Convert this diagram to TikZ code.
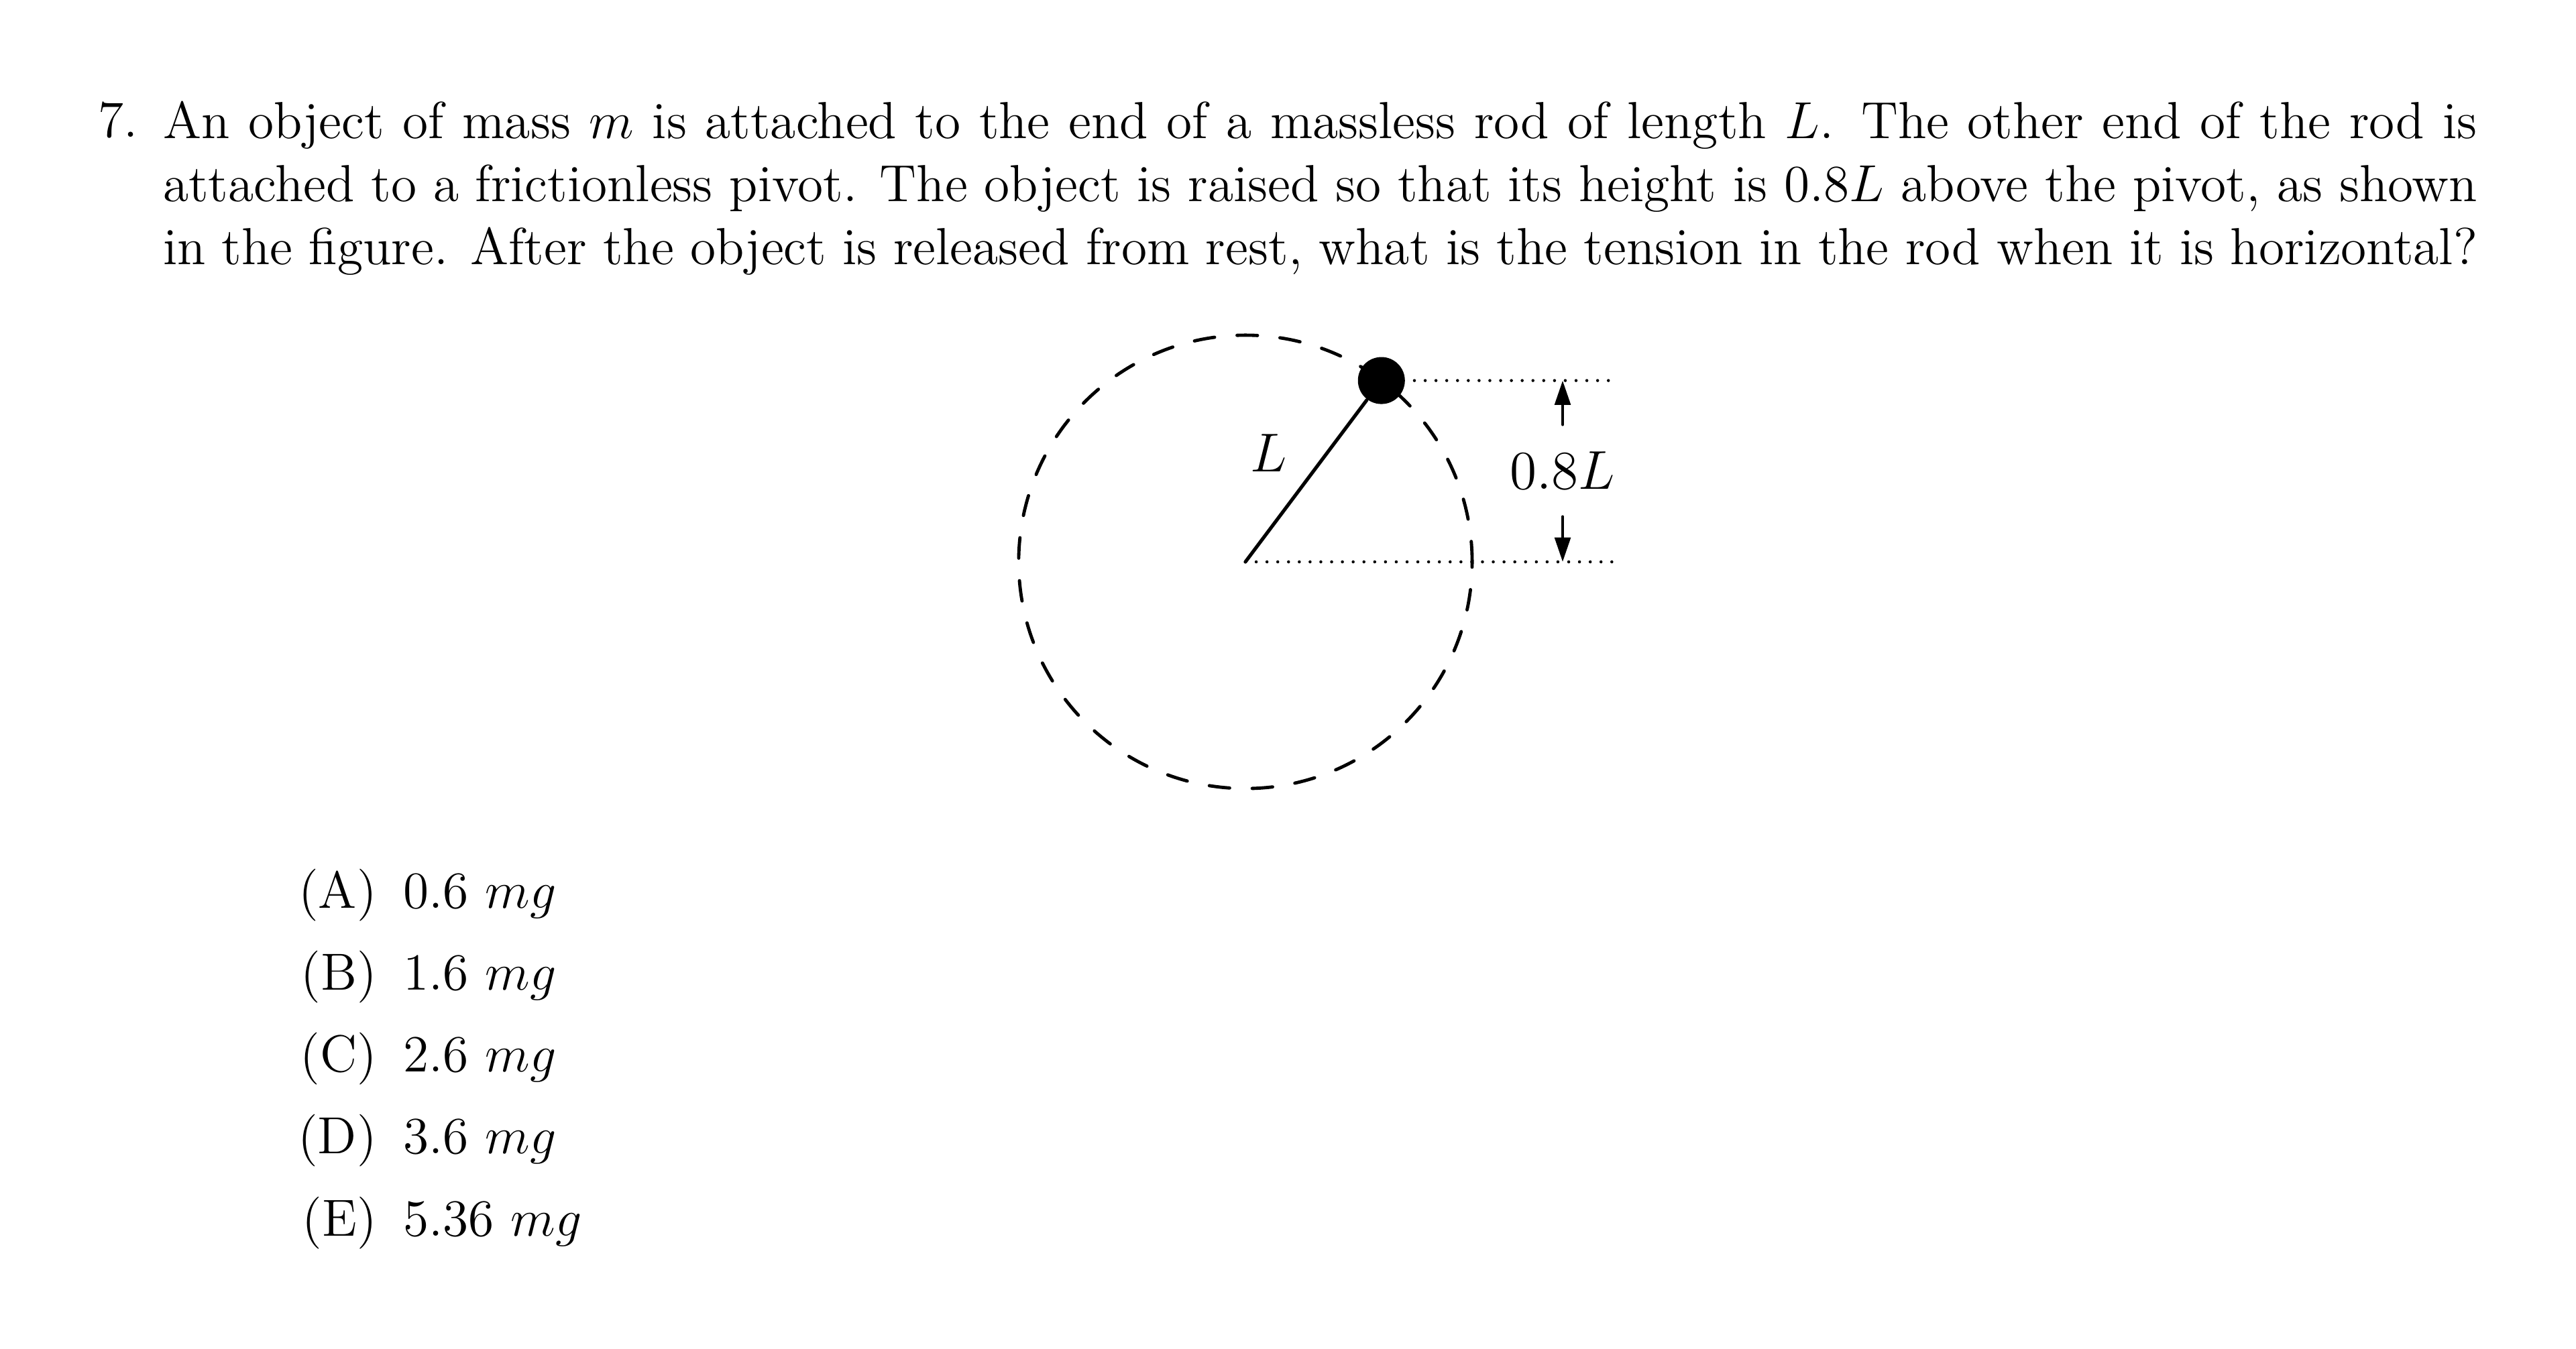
\documentclass[12pt,tikz,border=0pt]{standalone}
\usepackage{amsmath,amssymb}
\usepackage{xcolor}
\usepackage{tikz}
\usetikzlibrary{arrows.meta,positioning}
\tikzset{
bob/.style = {circle, fill=black, inner sep=0pt, minimum size = #1},
bob/.default = 0.38cm, % diameter of the mass
swing/.style = {line width=0.75pt, line cap=round, dash pattern=on 4.7pt off 5.2pt},
level/.style = {line width=0.7pt, line cap=round, dash pattern=on 0pt off 2.48pt},
rod/.style = {line width=0.8pt, line cap=round},
gauge/.style = {line width=0.7pt, line cap=round, -{Triangle[length=5.6pt,width=3.6pt]}},
answer/.style = {inner sep=0pt, anchor=base east},
figlabel/.style = {scale=1.05, transform shape},
}

\begin{document}
\begin{tikzpicture}
    \useasboundingbox (-10.074,4.546) rectangle (10.763,-6.364);
    % question text
    \node[inner sep=0pt, anchor=base west] (number) at (-9.288,3.434) {7.};
    \node[inner sep=0pt, anchor=north west, text width=18.72cm, align=justify] (question) at (-8.762,3.733) {An object of mass $m$ is attached to the end of a massless rod of length $L$. The other end of the rod is attached to a frictionless pivot. The object is raised so that its height is $0.8L$ above the pivot, as shown in the figure. After the object is released from rest, what is the tension in the rod when it is horizontal?};

    % figure
    \coordinate (pivot) at (0,0);
    \node[bob] (mass) at (1.100,1.467) {};
    \draw[swing] (pivot) circle (1.834);
    \draw[rod] (pivot) -- (mass);
    \node[figlabel] at (0.19,0.879) (rodL) {$L$};
    \coordinate (topend) at (2.94,1.467);
    \coordinate (lowend) at (2.97,0);
    \draw[level] ([xshift=0.07cm]mass.east) -- (topend);
    \draw[level] (pivot) -- (lowend);
    \node[figlabel, inner xsep=0pt, inner ysep=5.8pt] (height) at (2.566,0.738) {$0.8L$};
    \coordinate (toptip) at (2.566,1.467);
    \coordinate (lowtip) at (2.566,0);
    \draw[gauge] (height.north) -- (toptip);
    \draw[gauge] (height.south) -- (lowtip);

    % choices
    \foreach \letter/\val [count=\i from 0] in {A/0.6,B/1.6,C/2.6,D/3.6,E/5.36}{
        \node[answer] (opt\letter) at (-7.02,-2.804-0.662*\i) {(\letter)};
        \node[inner sep=0pt, base right=0.2cm of opt\letter] (val\letter) {\val\ $mg$};
    }
\end{tikzpicture}
\end{document}
